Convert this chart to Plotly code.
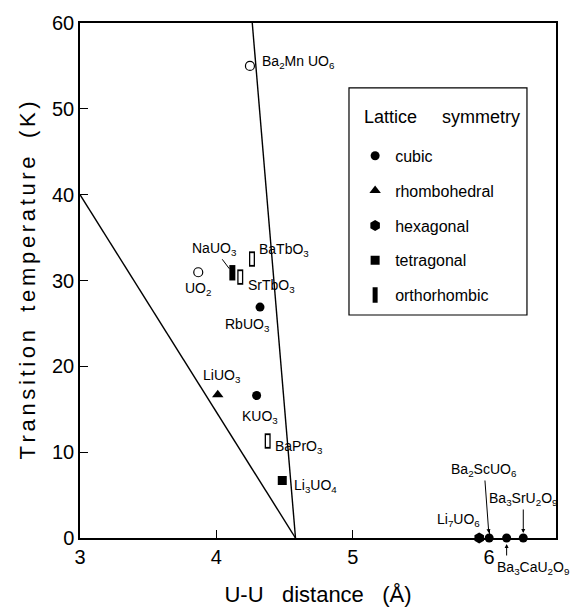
import plotly.graph_objects as go

# ---------------- data ----------------
cubic_names = ["RbUO<sub>3</sub>", "KUO<sub>3</sub>", "Ba<sub>2</sub>ScUO<sub>6</sub>",
               "Ba<sub>3</sub>CaU<sub>2</sub>O<sub>9</sub>", "Ba<sub>3</sub>SrU<sub>2</sub>O<sub>9</sub>"]
cubic_x = [4.32, 4.295, 6.00, 6.128, 6.25]
cubic_y = [26.9, 16.6, 0, 0, 0]

rhomb_names = ["LiUO<sub>3</sub>"]
rhomb_x = [4.01]
rhomb_y = [16.7]

hex_names = ["Li<sub>7</sub>UO<sub>6</sub>"]
hex_x = [5.927]
hex_y = [0]

tetra_names = ["Li<sub>3</sub>UO<sub>4</sub>"]
tetra_x = [4.483]
tetra_y = [6.7]

ortho_names = ["NaUO<sub>3</sub>"]
ortho_x = [4.117]
ortho_y = [30.9]

ortho_open_names = ["BaTbO<sub>3</sub>", "SrTbO<sub>3</sub>", "BaPrO<sub>3</sub>"]
ortho_open_x = [4.261, 4.175, 4.376]
ortho_open_y = [32.5, 30.4, 11.3]

other_names = ["UO<sub>2</sub>", "Ba<sub>2</sub>Mn UO<sub>6</sub>"]
other_x = [3.867, 4.246]
other_y = [30.96, 55.0]

lineA_x = [3.0, 4.58]
lineA_y = [40, 0]
lineB_x = [4.263, 4.58]
lineB_y = [60, 0]

x_ticks = [3, 4, 5, 6]
y_ticks = [0, 10, 20, 30, 40, 50, 60]

legend_title = "Lattice symmetry"
x_title = "U-U distance (Å)"
y_title = "Transition temperature (K)"

# ---------------- style ----------------
FONT = "Liberation Sans, Arial, sans-serif"
BLACK = "black"
NB = "\u00a0"


def spaced(text, letter_sep="", word_gap=3):
    words = text.split(" ")
    return (NB * word_gap).join(letter_sep.join(w) for w in words)


fig = go.Figure()

# boundary lines
for lx, ly in [(lineA_x, lineA_y), (lineB_x, lineB_y)]:
    fig.add_trace(go.Scatter(x=lx, y=ly, mode="lines", line=dict(color=BLACK, width=1.4),
                             showlegend=False, hoverinfo="skip"))

mk_common = dict(mode="markers", cliponaxis=False)

fig.add_trace(go.Scatter(x=cubic_x, y=cubic_y, name="cubic", legendgroup="a",
                         marker=dict(symbol="circle", size=9, color=BLACK), **mk_common))
fig.add_trace(go.Scatter(x=rhomb_x, y=rhomb_y, name="rhombohedral", legendgroup="b",
                         marker=dict(symbol="triangle-up", size=10, color=BLACK), **mk_common))
fig.add_trace(go.Scatter(x=hex_x, y=hex_y, name="hexagonal", legendgroup="c",
                         marker=dict(symbol="hexagon", size=11, color=BLACK), **mk_common))
fig.add_trace(go.Scatter(x=tetra_x, y=tetra_y, name="tetragonal", legendgroup="d",
                         marker=dict(symbol="square", size=9, color=BLACK), **mk_common))
fig.add_trace(go.Scatter(x=ortho_x, y=ortho_y, name="orthorhombic", legendgroup="e",
                         marker=dict(symbol="line-ns", size=11, color=BLACK,
                                     line=dict(color=BLACK, width=6)), **mk_common))
# open orthorhombic rectangles: black outer + white inner
fig.add_trace(go.Scatter(x=ortho_open_x, y=ortho_open_y, showlegend=False,
                         marker=dict(symbol="line-ns", size=11, color=BLACK,
                                     line=dict(color=BLACK, width=6)), **mk_common))
fig.add_trace(go.Scatter(x=ortho_open_x, y=ortho_open_y, showlegend=False,
                         marker=dict(symbol="line-ns", size=8.4, color="white",
                                     line=dict(color="white", width=3.4)), **mk_common))
# open circles
fig.add_trace(go.Scatter(x=other_x, y=other_y, showlegend=False,
                         marker=dict(symbol="circle-open", size=9, color=BLACK,
                                     line=dict(color=BLACK, width=1.2)), **mk_common))

# ---------------- labels ----------------
label_style = {
    "RbUO<sub>3</sub>": ("center", "top", -13, -7),
    "KUO<sub>3</sub>": ("center", "top", 3, -10),
    "LiUO<sub>3</sub>": ("center", "bottom", 4, 8),
    "Li<sub>3</sub>UO<sub>4</sub>": ("left", "middle", 10, -6),
    "Li<sub>7</sub>UO<sub>6</sub>": ("right", "bottom", 3, 7),
    "BaTbO<sub>3</sub>": ("left", "middle", 5, 9),
    "SrTbO<sub>3</sub>": ("left", "middle", 6, -9),
    "BaPrO<sub>3</sub>": ("left", "middle", 5, -6),
    "UO<sub>2</sub>": ("center", "top", 0, -6),
    "Ba<sub>2</sub>Mn UO<sub>6</sub>": ("left", "middle", 10, 4),
}

all_pts = []
for names, xs, ys in [(cubic_names, cubic_x, cubic_y), (rhomb_names, rhomb_x, rhomb_y),
                      (hex_names, hex_x, hex_y), (tetra_names, tetra_x, tetra_y),
                      (ortho_open_names, ortho_open_x, ortho_open_y),
                      (other_names, other_x, other_y)]:
    for n, x, y in zip(names, xs, ys):
        all_pts.append((n, x, y))

lab_font = dict(family=FONT, size=14, color=BLACK)
for n, x, y in all_pts:
    if n in label_style:
        xa, ya, xs, ys = label_style[n]
        fig.add_annotation(x=x, y=y, text=n, showarrow=False, xanchor=xa, yanchor=ya,
                           xshift=xs, yshift=ys, font=lab_font)

arrow_style = {
    "NaUO<sub>3</sub>": dict(ax=-18, ay=-24, arrowhead=0, standoff=5),
    "Ba<sub>2</sub>ScUO<sub>6</sub>": dict(ax=-5, ay=-68, arrowhead=2, standoff=5),
    "Ba<sub>3</sub>SrU<sub>2</sub>O<sub>9</sub>": dict(ax=0, ay=-39, arrowhead=2, standoff=5),
}
for names, xs, ys in [(ortho_names, ortho_x, ortho_y), (cubic_names, cubic_x, cubic_y)]:
    for n, x, y in zip(names, xs, ys):
        if n in arrow_style:
            st = arrow_style[n]
            fig.add_annotation(x=x, y=y, text=n, showarrow=True, arrowcolor=BLACK,
                               arrowwidth=1, arrowsize=0.8, font=lab_font, **st)

# Ba3CaU2O9: vertical arrow from below plus label offset to the right
n = cubic_names[3]
fig.add_annotation(x=cubic_x[3], y=cubic_y[3], text="", showarrow=True, ax=0, ay=19,
                   arrowhead=2, arrowsize=0.8, arrowwidth=1, arrowcolor=BLACK, standoff=6)
fig.add_annotation(x=cubic_x[3], y=cubic_y[3], text=n, showarrow=False, xanchor="left",
                   yanchor="top", xshift=-12, yshift=-19, font=lab_font)

# ---------------- legend box & title ----------------
fig.add_shape(type="rect", xref="paper", yref="paper", x0=0.5651, x1=0.939, y0=0.433, y1=0.874,
              line=dict(color=BLACK, width=1.2), fillcolor="white", layer="below")
fig.add_annotation(xref="paper", yref="paper", x=0.5924, y=0.8175, xanchor="left", yanchor="middle",
                   text=spaced(legend_title, word_gap=5), showarrow=False,
                   font=dict(family=FONT, size=18, color=BLACK))

axis_common = dict(showline=True, linecolor=BLACK, linewidth=1.5, mirror=True,
                   ticks="inside", ticklen=8, tickwidth=1.3, tickcolor=BLACK,
                   showgrid=False, zeroline=False, automargin=False,
                   tickfont=dict(family=FONT, size=20, color=BLACK))

fig.update_xaxes(range=[3, 6.49], tickvals=x_ticks, ticktext=[str(v) for v in x_ticks],
                 title=dict(text=spaced(x_title, word_gap=3),
                            font=dict(family=FONT, size=22, color=BLACK), standoff=20),
                 **axis_common)
fig.update_yaxes(range=[0, 60], tickvals=y_ticks, ticktext=[str(v) for v in y_ticks],
                 title=dict(text=spaced(y_title, letter_sep="\u2006", word_gap=3),
                            font=dict(family=FONT, size=22, color=BLACK), standoff=10),
                 **axis_common)

fig.update_layout(
    width=571, height=610,
    margin=dict(l=80, r=15, t=23, b=72),
    plot_bgcolor="white", paper_bgcolor="white",
    font=dict(family=FONT, color=BLACK),
    legend=dict(
        font=dict(family=FONT, size=16, color=BLACK),
        x=0.578, y=0.775, xanchor="left", yanchor="top",
        borderwidth=0, bgcolor="rgba(0,0,0,0)",
        tracegroupgap=11,
    ),
)

fig.write_html("out.html")
